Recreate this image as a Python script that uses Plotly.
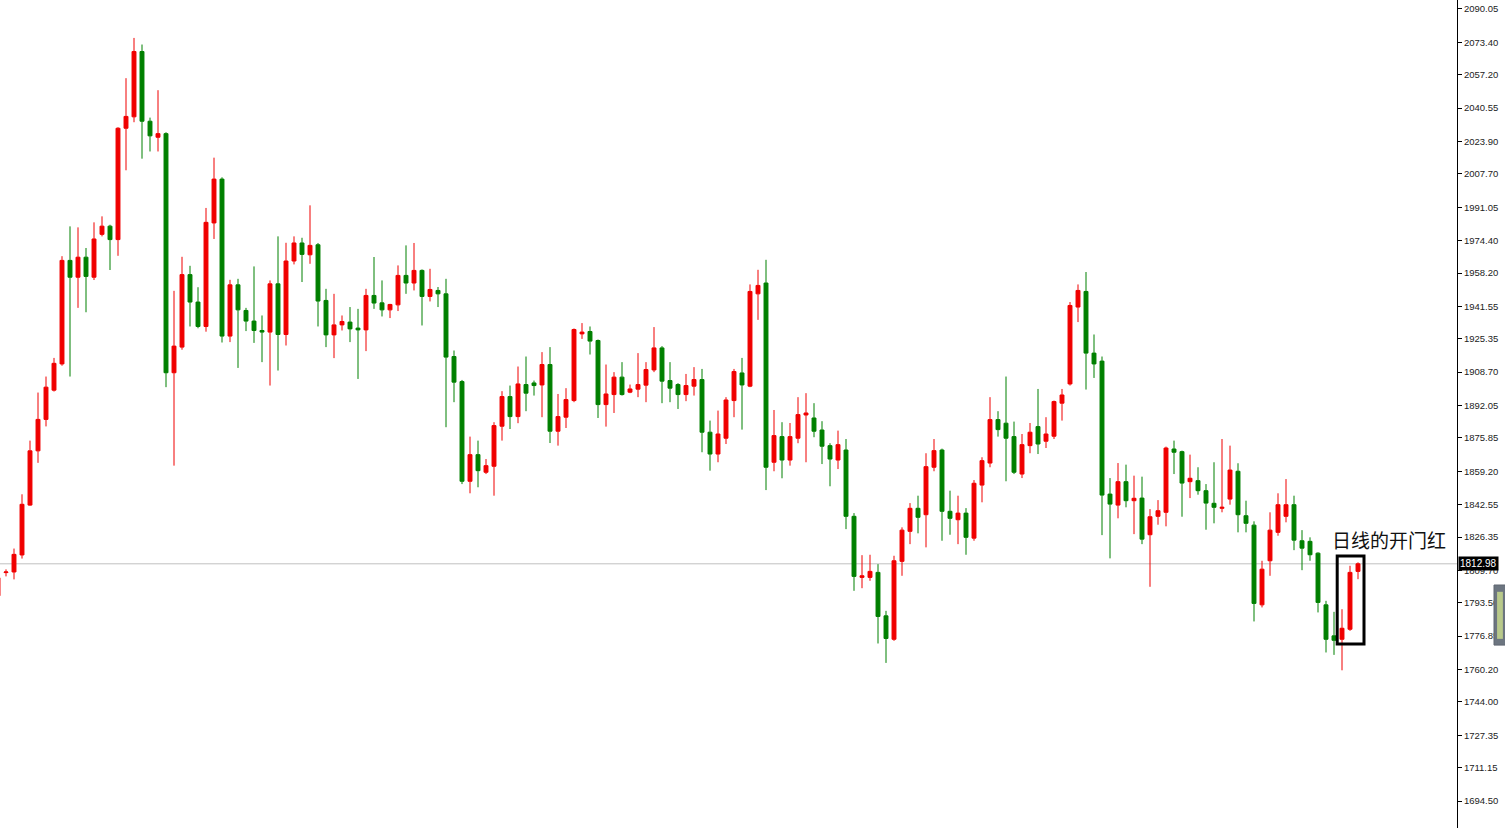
import plotly.graph_objects as go

# Daily OHLC (red = up day, green = down day)
opens = [1797.0, 1808.6, 1808.9, 1817.4, 1842.3, 1869.4, 1885.1, 1899.7, 1912.8, 1964.5,
         1956.1, 1966.1, 1956.1, 1977.5, 1981.6, 1974.9, 2030.5, 2036.2, 2068.8, 2034.0,
         2026.0, 2027.8, 1908.4, 1921.2, 1957.4, 1943.7, 1931.5, 1983.2, 2005.1, 1926.7,
         1952.3, 1939.5, 1934.2, 1929.5, 1928.7, 1952.8, 1927.5, 1964.2, 1973.2, 1967.3,
         1972.3, 1944.5, 1927.3, 1932.3, 1933.7, 1930.7, 1929.8, 1947.0, 1943.3, 1939.8,
         1942.3, 1957.0, 1953.2, 1959.5, 1946.5, 1949.5, 1947.8, 1916.5, 1904.0, 1854.2,
         1867.5, 1858.7, 1861.7, 1881.7, 1896.5, 1886.5, 1902.5, 1903.3, 1902.3, 1912.5,
         1879.2, 1886.2, 1894.5, 1927.8, 1929.0, 1924.5, 1892.5, 1897.5, 1906.2, 1898.7,
         1900.2, 1902.2, 1909.8, 1920.8, 1904.5, 1902.5, 1897.5, 1901.7, 1905.0, 1878.7,
         1867.8, 1875.7, 1894.5, 1908.3, 1901.7, 1947.8, 1953.2, 1863.7, 1876.5, 1864.8,
         1875.7, 1887.3, 1885.8, 1879.8, 1872.0, 1864.8, 1869.8, 1836.7, 1806.2, 1806.2,
         1808.7, 1787.0, 1775.3, 1814.2, 1829.2, 1840.7, 1837.5, 1861.2, 1869.8, 1839.2,
         1835.0, 1838.3, 1825.8, 1852.3, 1863.3, 1885.0, 1883.2, 1876.5, 1857.8, 1872.0,
         1881.5, 1874.2, 1876.7, 1893.2, 1902.8, 1941.2, 1949.0, 1918.2, 1914.2, 1847.8,
         1842.3, 1854.0, 1844.5, 1845.8, 1827.5, 1836.7, 1838.7, 1870.3, 1869.0, 1854.0,
         1854.5, 1849.5, 1843.2, 1840.7, 1845.3, 1859.2, 1837.0, 1832.3, 1792.5, 1814.5,
         1828.7, 1836.7, 1842.5, 1824.5, 1824.2, 1818.3, 1792.5, 1777.0, 1775.3, 1780.3,
         1809.2]
highs = [1807.5, 1810.2, 1820.6, 1847.7, 1874.5, 1898.5, 1906.5, 1915.8, 1966.6, 1981.5,
         1981.0, 1970.7, 1983.5, 1986.5, 1982.3, 2031.0, 2055.5, 2075.6, 2072.3, 2035.8,
         2049.5, 2028.5, 1949.3, 1966.3, 1961.8, 1951.1, 1990.7, 2015.8, 2006.0, 1954.8,
         1955.3, 1940.8, 1961.5, 1937.0, 1954.5, 1976.5, 1973.3, 1976.5, 1975.8, 1992.0,
         1973.2, 1950.3, 1947.8, 1937.0, 1941.2, 1940.3, 1950.3, 1966.2, 1954.5, 1942.8,
         1962.0, 1972.0, 1973.2, 1960.0, 1960.3, 1951.2, 1955.3, 1919.5, 1904.8, 1876.5,
         1874.5, 1865.3, 1883.7, 1899.2, 1902.0, 1911.5, 1916.5, 1904.5, 1918.7, 1921.2,
         1897.8, 1900.7, 1930.5, 1933.2, 1931.5, 1925.0, 1912.5, 1908.7, 1913.7, 1902.5,
         1918.2, 1913.7, 1931.2, 1921.7, 1913.7, 1903.2, 1907.8, 1911.2, 1910.3, 1884.5,
         1889.5, 1896.2, 1910.3, 1915.8, 1952.5, 1959.8, 1964.8, 1889.8, 1883.7, 1883.3,
         1896.2, 1898.2, 1893.2, 1884.2, 1873.2, 1879.5, 1875.3, 1838.3, 1817.3, 1817.5,
         1812.8, 1789.5, 1817.0, 1831.2, 1843.3, 1847.0, 1868.2, 1875.3, 1870.5, 1849.5,
         1847.0, 1840.8, 1854.8, 1866.2, 1896.2, 1889.2, 1906.5, 1884.0, 1877.8, 1883.3,
         1900.3, 1886.2, 1894.5, 1900.3, 1943.7, 1952.5, 1958.7, 1927.5, 1916.5, 1855.8,
         1863.3, 1862.5, 1857.0, 1856.5, 1840.3, 1844.8, 1871.5, 1874.5, 1869.5, 1867.5,
         1861.2, 1852.8, 1863.7, 1875.3, 1872.0, 1863.2, 1844.5, 1834.2, 1814.5, 1838.7,
         1848.2, 1855.3, 1847.0, 1829.8, 1826.2, 1818.7, 1794.5, 1789.0, 1790.3, 1812.0,
         1813.7]
lows = [1795.5, 1806.7, 1805.2, 1815.6, 1842.0, 1863.4, 1881.6, 1899.0, 1911.9, 1906.5,
        1940.8, 1938.6, 1954.7, 1976.5, 1959.7, 1966.8, 2009.5, 2033.5, 2015.3, 2018.9,
        2018.9, 1901.2, 1862.0, 1919.9, 1931.5, 1930.6, 1928.9, 1975.2, 1923.5, 1923.7,
        1910.8, 1929.2, 1923.3, 1913.7, 1902.0, 1909.5, 1922.0, 1962.5, 1953.7, 1962.8,
        1931.5, 1921.2, 1915.7, 1929.5, 1923.7, 1905.3, 1919.2, 1940.3, 1936.5, 1935.7,
        1939.2, 1947.8, 1949.5, 1932.0, 1944.0, 1941.2, 1881.2, 1893.7, 1852.8, 1848.2,
        1851.2, 1857.8, 1847.0, 1874.5, 1880.3, 1883.2, 1889.2, 1897.0, 1886.2, 1873.3,
        1872.0, 1880.8, 1893.7, 1925.3, 1917.5, 1885.8, 1881.5, 1888.3, 1897.0, 1898.2,
        1896.2, 1893.7, 1908.7, 1893.2, 1893.7, 1890.3, 1894.2, 1897.0, 1868.7, 1859.5,
        1863.7, 1872.8, 1886.2, 1880.0, 1901.2, 1934.8, 1849.8, 1859.2, 1855.7, 1862.0,
        1873.2, 1863.7, 1876.2, 1862.8, 1851.7, 1860.3, 1830.3, 1799.5, 1800.8, 1804.5,
        1773.2, 1763.5, 1774.5, 1807.0, 1822.8, 1828.2, 1821.2, 1859.2, 1824.5, 1827.5,
        1822.8, 1817.5, 1824.5, 1843.7, 1861.2, 1876.5, 1854.2, 1857.8, 1855.8, 1868.2,
        1867.8, 1870.8, 1875.3, 1884.5, 1902.0, 1933.7, 1900.0, 1905.8, 1827.3, 1815.7,
        1835.7, 1841.2, 1827.8, 1822.8, 1801.5, 1832.5, 1831.7, 1857.8, 1836.5, 1845.8,
        1847.5, 1830.0, 1833.2, 1838.7, 1842.5, 1828.7, 1828.7, 1784.2, 1791.2, 1807.0,
        1827.0, 1833.7, 1819.8, 1809.8, 1814.5, 1788.7, 1768.7, 1767.5, 1759.8, 1779.5,
        1805.3]
closes = [1806.0, 1808.9, 1817.7, 1842.7, 1869.4, 1885.1, 1901.2, 1913.1, 1964.5, 1956.1,
          1966.1, 1956.5, 1975.2, 1981.6, 1974.9, 2030.5, 2036.4, 2068.8, 2034.0, 2026.7,
          2027.8, 1908.4, 1921.7, 1957.4, 1943.7, 1931.5, 1983.5, 2005.1, 1926.7, 1952.3,
          1939.8, 1934.2, 1929.5, 1928.7, 1952.8, 1927.5, 1964.2, 1973.2, 1967.5, 1972.0,
          1944.2, 1927.3, 1932.3, 1934.0, 1930.3, 1929.8, 1947.0, 1943.2, 1939.8, 1942.5,
          1957.0, 1953.2, 1959.5, 1946.5, 1950.0, 1947.8, 1916.2, 1903.7, 1854.2, 1867.5,
          1859.5, 1862.0, 1882.0, 1896.5, 1886.5, 1902.8, 1898.2, 1902.0, 1912.5, 1879.2,
          1886.5, 1895.0, 1930.0, 1928.7, 1924.2, 1892.5, 1897.8, 1906.2, 1897.5, 1900.3,
          1902.5, 1910.0, 1920.8, 1904.2, 1900.7, 1897.5, 1902.0, 1905.0, 1878.7, 1867.8,
          1877.8, 1894.8, 1909.0, 1902.3, 1949.0, 1952.0, 1861.2, 1877.0, 1864.8, 1876.5,
          1887.5, 1888.3, 1879.2, 1871.7, 1865.3, 1872.5, 1836.7, 1806.7, 1807.0, 1809.2,
          1786.7, 1775.7, 1814.5, 1829.8, 1840.7, 1836.2, 1861.5, 1869.5, 1839.2, 1835.7,
          1838.3, 1826.2, 1853.2, 1864.5, 1885.0, 1880.0, 1875.7, 1858.7, 1872.5, 1878.7,
          1872.8, 1877.8, 1894.0, 1897.3, 1942.0, 1949.5, 1918.2, 1912.8, 1847.3, 1842.8,
          1854.0, 1844.5, 1845.7, 1825.3, 1836.5, 1839.5, 1870.8, 1868.7, 1853.3, 1855.7,
          1849.5, 1843.3, 1841.2, 1841.2, 1859.8, 1837.5, 1833.2, 1793.2, 1810.3, 1829.8,
          1842.5, 1842.5, 1824.8, 1820.8, 1817.5, 1793.7, 1775.3, 1774.8, 1780.8, 1808.7,
          1812.98]
bars = list(range(len(opens)))

tick_values = [2090.05, 2073.40, 2057.20, 2040.55, 2023.90, 2007.70, 1991.05, 1974.40,
               1958.20, 1941.55, 1925.35, 1908.70, 1892.05, 1875.85, 1859.20, 1842.55,
               1826.35, 1809.70, 1793.50, 1776.85, 1760.20, 1744.00, 1727.35, 1711.15,
               1694.50]
tick_labels = ["%.2f" % v for v in tick_values]
last_price = 1812.98
note_text = "日线的开门红"

UP = "#F00000"
DOWN = "#008000"

fig = go.Figure(go.Candlestick(
    x=bars, open=opens, high=highs, low=lows, close=closes,
    increasing=dict(line=dict(color=UP, width=1), fillcolor=UP),
    decreasing=dict(line=dict(color=DOWN, width=1), fillcolor=DOWN),
    whiskerwidth=0, showlegend=False, hoverinfo="skip",
))

# current price line
fig.add_shape(type="line", xref="paper", x0=0, x1=1, yref="y", y0=last_price, y1=last_price,
              line=dict(color="#C0C0C0", width=1), layer="below")

# highlight box around the last three candles
fig.add_shape(type="rect", xref="x", x0=167.4, x1=170.75, yref="y", y0=1772.9, y1=1816.9,
              line=dict(color="black", width=3), fillcolor="rgba(0,0,0,0)")

fig.add_annotation(text=note_text, xref="x", x=166.5, xanchor="left",
                   yref="y", y=1824.9, yanchor="middle", showarrow=False,
                   font=dict(family="Noto Sans CJK SC", size=19, color="#111111"))

# last price label on the axis
fig.add_annotation(text="%.2f" % last_price, xref="paper", x=1, xanchor="left", xshift=1,
                   yref="y", y=last_price, yanchor="middle", showarrow=False,
                   bgcolor="black", borderpad=1,
                   font=dict(family="Liberation Sans", size=10, color="white"))

# small scroll widget at the right edge
fig.add_shape(type="rect", xref="paper", x0=1.0254, x1=1.034, yref="y", y0=1772.4, y1=1802.4,
              line=dict(color="#5E6670", width=1), fillcolor="#6C7580")
fig.add_shape(type="rect", xref="paper", x0=1.0275, x1=1.0315, yref="y", y0=1775.5, y1=1799.0,
              line=dict(width=0), fillcolor="#B8C98A")

fig.update_layout(
    width=1505, height=828,
    margin=dict(l=0, r=48, t=0, b=0),
    paper_bgcolor="white", plot_bgcolor="white",
    xaxis=dict(range=[0.25, 182.375], visible=False, rangeslider=dict(visible=False),
               showgrid=False, zeroline=False),
    yaxis=dict(side="right", range=[1681.05, 2094.54], tickmode="array",
               tickvals=tick_values, ticktext=tick_labels,
               showgrid=False, zeroline=False, showline=True, linecolor="black", linewidth=1,
               ticks="outside", ticklen=4, tickcolor="black", tickwidth=1,
               tickfont=dict(family="Liberation Sans", size=9.5, color="#222222")),
    font=dict(family="Liberation Sans"),
)

fig.write_html("out.html", config={"displayModeBar": False},
               post_script="document.body.style.margin='0px';document.body.style.overflow='hidden';")
